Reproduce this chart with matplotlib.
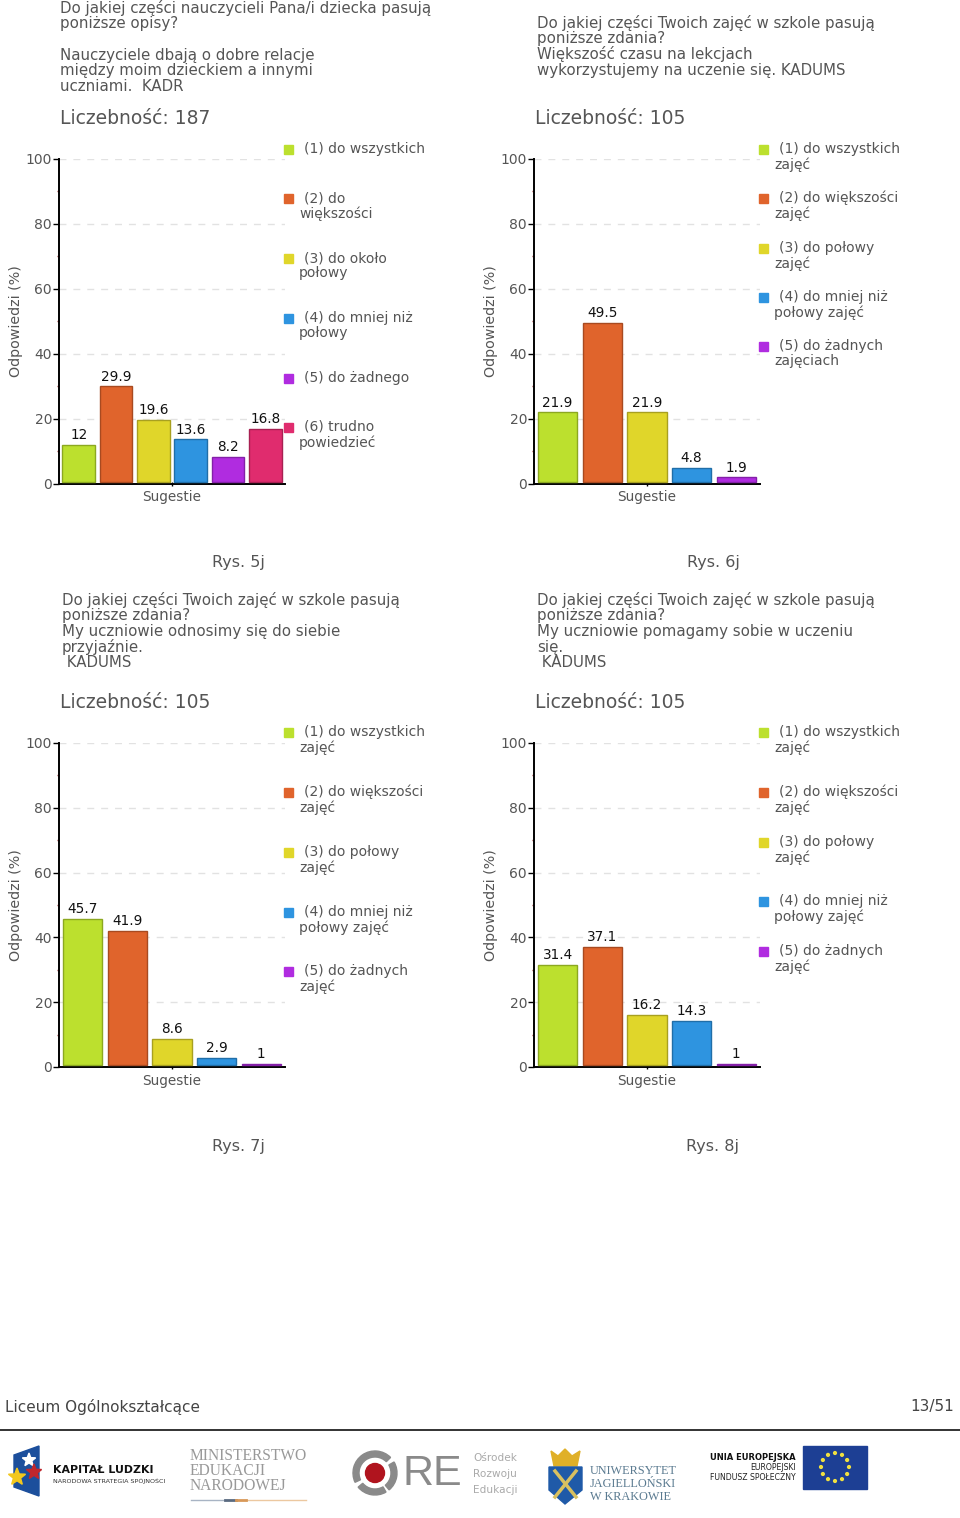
import numpy as np
import matplotlib
matplotlib.use("Agg")
import matplotlib.pyplot as plt
from matplotlib.patches import Rectangle, Polygon, Circle, Wedge

W, H = 960, 1518

# dane
values_5j = [12, 29.9, 19.6, 13.6, 8.2, 16.8]
values_6j = [21.9, 49.5, 21.9, 4.8, 1.9]
values_7j = [45.7, 41.9, 8.6, 2.9, 1]
values_8j = [31.4, 37.1, 16.2, 14.3, 1]

legend_5j = ["(1) do wszystkich", "(2) do\nwiększości", "(3) do około\npołowy",
             "(4) do mniej niż\npołowy", "(5) do żadnego", "(6) trudno\npowiedzieć"]
legend_6j = ["(1) do wszystkich\nzajęć", "(2) do większości\nzajęć", "(3) do połowy\nzajęć",
             "(4) do mniej niż\npołowy zajęć", "(5) do żadnych\nzajęciach"]
legend_78 = ["(1) do wszystkich\nzajęć", "(2) do większości\nzajęć", "(3) do połowy\nzajęć",
             "(4) do mniej niż\npołowy zajęć", "(5) do żadnych\nzajęć"]

title_5j = ["Do jakiej części nauczycieli Pana/i dziecka pasują", "poniższe opisy?", "",
            "Nauczyciele dbają o dobre relacje", "między moim dzieckiem a innymi", "uczniami.  KADR"]
title_6j = ["Do jakiej części Twoich zajęć w szkole pasują", "poniższe zdania?",
            "Większość czasu na lekcjach", "wykorzystujemy na uczenie się. KADUMS"]
title_7j = ["Do jakiej części Twoich zajęć w szkole pasują", "poniższe zdania?",
            "My uczniowie odnosimy się do siebie", "przyjaźnie.", " KADUMS"]
title_8j = ["Do jakiej części Twoich zajęć w szkole pasują", "poniższe zdania?",
            "My uczniowie pomagamy sobie w uczeniu", "się.", " KADUMS"]

colors = ["#bce02e", "#e0642c", "#e0d62a", "#2e94e0", "#b02ce0", "#e02c6e"]
edges = ["#8ca820", "#a84a20", "#a8a020", "#206ea8", "#8420a8", "#a82052"]
TXT = "#555555"
BASE = 0.6  # slupki nie dotykaja osi

fig = plt.figure(figsize=(W / 100, H / 100), dpi=100)
bg = fig.add_axes([0, 0, 1, 1])
bg.set_xlim(0, W)
bg.set_ylim(H, 0)
bg.axis("off")


def panel(x0, y_top, y_zero, values, legend, leg_y, title, title_x, title_y, n, rys):
    ax = fig.add_axes([x0 / W, 1 - y_zero / H, 226 / W, (y_zero - y_top) / H])
    xs = np.arange(len(values))
    bars = ax.bar(xs, np.array(values) - BASE, width=0.88, bottom=BASE, color=colors[:len(values)],
                  edgecolor=edges[:len(values)], linewidth=1, zorder=3)
    ax.bar_label(bars, labels=[f"{v:g}" for v in values], padding=2, fontsize=9.8, color="#111111")
    ax.set_xlim(-0.53, len(values) - 0.47)
    ax.set_ylim(0, 100)
    ax.patch.set_alpha(0)
    ax.spines[["top", "right"]].set_visible(False)
    ax.spines["left"].set_linewidth(1.4)
    ax.spines["bottom"].set_linewidth(1.4)
    ax.set_yticks([0, 20, 40, 60, 80, 100])
    ax.set_yticks([10, 30, 50, 70, 90], minor=True)
    ax.tick_params(axis="y", which="major", length=4, width=1, labelsize=10, labelcolor=TXT, pad=1)
    ax.tick_params(axis="y", which="minor", length=1.5, width=1, color="#a03030")
    ax.set_xticks([(len(values) - 1) / 2])
    ax.set_xticklabels(["Sugestie"], fontsize=9.8, color=TXT)
    ax.tick_params(axis="x", length=3, width=1, direction="inout", pad=3.5)
    ax.grid(axis="y", which="major", color="#e2e2e2", linestyle=(0, (5, 5)), linewidth=1, zorder=0)
    ax.set_axisbelow(True)
    ax.set_ylabel("Odpowiedzi (%)", fontsize=10.3, color=TXT)
    ax.yaxis.set_label_coords(-36 / 226, 0.5)

    # legenda
    for i, (lab, y) in enumerate(zip(legend, leg_y)):
        bg.add_patch(Rectangle((x0 + 225, y - 4), 9, 9, color=colors[i]))
        lines = lab.split("\n")
        bg.text(x0 + 245, y, lines[0], fontsize=10, color=TXT, va="center")
        if len(lines) > 1:
            bg.text(x0 + 240, y + 15.5, lines[1], fontsize=10, color=TXT, va="center")

    # opis nad wykresem
    for i, line in enumerate(title):
        bg.text(title_x, title_y + i * 15.7, line, fontsize=10.85, color=TXT, va="center")
    bg.text(x0 + 1, y_top - 40.5, "Liczebność: %d" % n, fontsize=13.5, color=TXT, va="center")
    bg.text(x0 + 179, y_zero + 79.5, rys, fontsize=11.5, color=TXT, va="center", ha="center")


panel(59, 159, 483.5, values_5j, legend_5j, [149, 198, 258, 318, 378, 427],
      title_5j, 60, 8, 187, "Rys. 5j")
panel(534, 159, 483.5, values_6j, legend_6j, [149, 198, 248, 297, 346],
      title_6j, 537, 23, 105, "Rys. 6j")
panel(59, 743, 1067, values_7j, legend_78, [732, 792, 852, 912, 971],
      title_7j, 62, 600, 105, "Rys. 7j")
panel(534, 743, 1067, values_8j, legend_78, [732, 792, 842, 901, 951],
      title_8j, 537, 600, 105, "Rys. 8j")

# stopka
bg.text(5, 1407, "Liceum Ogólnokształcące", fontsize=10.95, color="#444444", va="center")
bg.text(954, 1407, "13/51", fontsize=10.95, color="#444444", va="center", ha="right")
bg.plot([0, W], [1430, 1430], color="#111111", lw=1.2)


def star(cx, cy, r, color):
    a = np.linspace(-np.pi / 2, 1.5 * np.pi, 11)[:-1]
    rr = np.where(np.arange(10) % 2 == 0, r, r * 0.42)
    bg.add_patch(Polygon(np.c_[cx + rr * np.cos(a), cy + rr * np.sin(a)], color=color, zorder=3))


# logo Kapitał Ludzki
bg.add_patch(Polygon([(14, 1455), (39, 1446), (39, 1496), (14, 1487)], color="#1c4f9c"))
star(29, 1460, 7, "white")
star(17, 1477, 9, "#f2c81e")
star(34, 1472, 8, "#c0272d")
bg.text(53, 1470, "KAPITAŁ LUDZKI", fontsize=7.9, fontweight="bold", color="#111111", va="center")
bg.text(53, 1481.5, "NARODOWA STRATEGIA SPÓJNOŚCI", fontsize=4.6, color="#333333", va="center")

# logo MEN
for i, t in enumerate(["MINISTERSTWO", "EDUKACJI", "NARODOWEJ"]):
    bg.text(190, 1456 + i * 15, t, fontsize=11.2, family="Liberation Serif", color="#999999", va="center")
bg.plot([191, 225], [1500, 1500], color="#a8b4c4", lw=1)
bg.plot([246, 306], [1500, 1500], color="#ecc8a0", lw=1)
bg.plot([225, 236], [1500, 1500], color="#5a6a80", lw=2)
bg.plot([236, 246], [1500, 1500], color="#d89858", lw=2)

# logo ORE
for t1, t2 in [(45, 205), (220, 300), (310, 390)]:
    bg.add_patch(Wedge((375, 1473), 22, -t2, -t1, width=6, color="#8a8a8a"))
bg.add_patch(Circle((375, 1473), 9.5, color="#b0141e"))
bg.text(403, 1474, "RE", fontsize=31, color="#8a8a8a", va="center", family="Liberation Sans")
for i, t in enumerate(["Ośrodek", "Rozwoju", "Edukacji"]):
    bg.text(473, 1458 + i * 16, t, fontsize=7.6, color="#aaaaaa", va="center")

# logo UJ
bg.add_patch(Polygon([(551, 1451), (558, 1456), (565, 1449), (572, 1456), (580, 1451),
                      (577, 1466), (554, 1466)], color="#e0b028"))
bg.add_patch(Polygon([(549, 1467), (582, 1467), (582, 1490), (565, 1504), (549, 1490)], color="#1f5aa8"))
bg.plot([555, 576], [1471, 1497], color="#d8c060", lw=2.5, zorder=3)
bg.plot([576, 555], [1471, 1497], color="#d8c060", lw=2.5, zorder=3)
for i, t in enumerate(["UNIWERSYTET", "JAGIELLOŃSKI", "W KRAKOWIE"]):
    bg.text(590, 1471 + i * 13, t, fontsize=8.8, family="Liberation Serif", color="#5a7a90", va="center")

# logo UE
bg.text(796, 1457, "UNIA EUROPEJSKA", fontsize=6, fontweight="bold", color="#111111", va="center", ha="right")
bg.text(796, 1468, "EUROPEJSKI", fontsize=5.6, color="#222222", va="center", ha="right")
bg.text(796, 1478, "FUNDUSZ SPOŁECZNY", fontsize=5.6, color="#222222", va="center", ha="right")
bg.add_patch(Rectangle((803, 1446), 64, 43, color="#1d3f94"))
for k in range(12):
    a = k * np.pi / 6
    bg.add_patch(Circle((835 + 14 * np.cos(a), 1467 + 14 * np.sin(a)), 1.4, color="#f0e040", zorder=3))

fig.savefig("out.png", dpi=100)
